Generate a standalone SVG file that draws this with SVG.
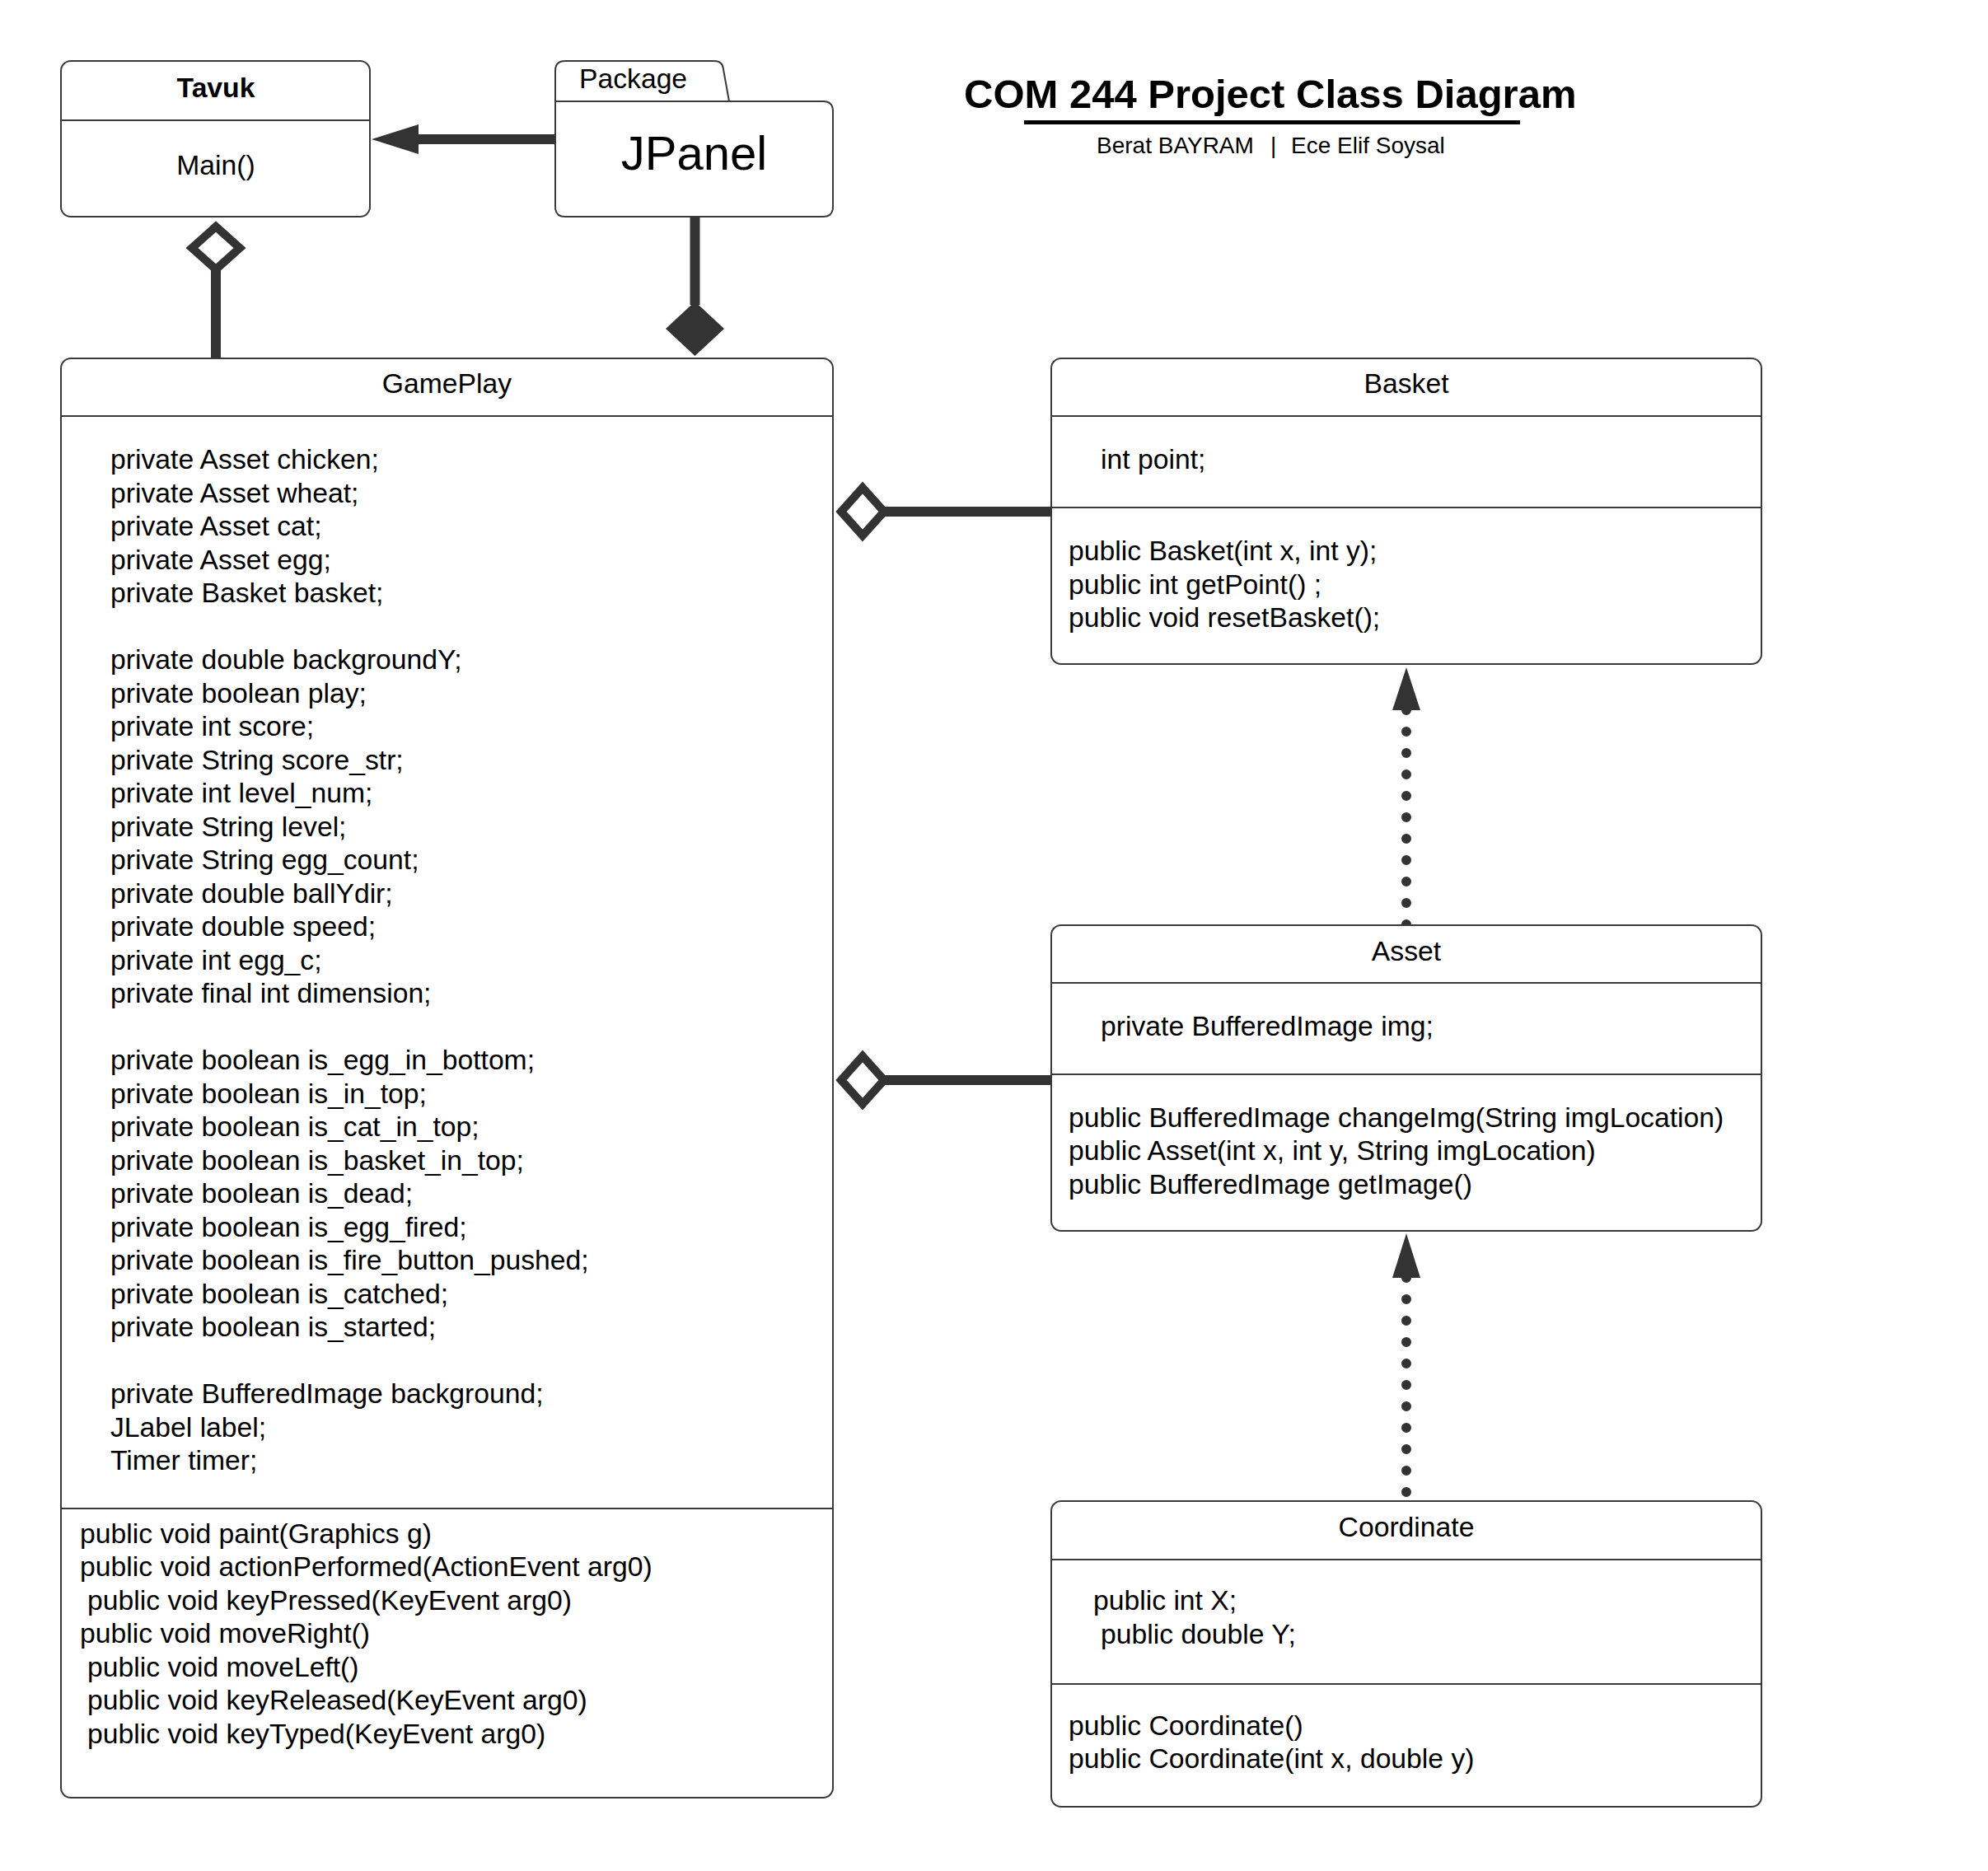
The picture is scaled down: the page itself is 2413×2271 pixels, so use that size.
<svg xmlns="http://www.w3.org/2000/svg" width="2413" height="2271" viewBox="0 0 2413 2271">
<style>
.box{fill:#fff;stroke:#3a3a3a;stroke-width:2}
.dv{stroke:#3a3a3a;stroke-width:2;fill:none}
.t{font-family:"Liberation Sans",Arial,sans-serif;font-size:33.7px;fill:#000}
.c{text-anchor:middle}
.ln{stroke:#333;stroke-width:12;fill:none}
.dot{stroke:#333;stroke-width:12;stroke-linecap:round;stroke-dasharray:0 26;fill:none}
.hd{fill:#fff;stroke:#333;stroke-width:10;stroke-linejoin:miter}
.fh{fill:#333;stroke:none}
</style>
<rect width="2413" height="2271" fill="#fff"/>
<g id="title">
<text class="t" x="1170" y="131" style="font-size:49px;font-weight:bold">COM 244 Project Class Diagram</text>
<rect x="1243" y="146" width="602" height="5" fill="#000"/>
<text class="t" y="186" style="font-size:28px"><tspan x="1331">Berat BAYRAM</tspan><tspan x="1542">|</tspan><tspan x="1567">Ece Elif Soysal</tspan></text>
</g>
<g id="connectors">
<line class="ln" x1="674" y1="169" x2="500" y2="169"/>
<polygon class="fh" points="451,169 508,151 508,187"/>
<line class="ln" x1="262" y1="327" x2="262" y2="435"/>
<polygon class="hd" points="262,275 291,301 262,327 233,301"/>
<line class="ln" x1="843.5" y1="263" x2="843.5" y2="370"/>
<polygon class="fh" points="843.5,366 879,399 843.5,432 808,399"/>
<line class="ln" x1="1073" y1="621" x2="1276" y2="621"/>
<polygon class="hd" points="1021,621 1047,592 1073,621 1047,650"/>
<line class="ln" x1="1073" y1="1311" x2="1276" y2="1311"/>
<polygon class="hd" points="1021,1311 1047,1282 1073,1311 1047,1340"/>
<path class="dot" d="M1707,862 V1123"/>
<polygon class="fh" points="1707,810 1724,862 1690,862"/>
<path class="dot" d="M1707,1551 V1822"/>
<polygon class="fh" points="1707,1497 1724,1551 1690,1551"/>
</g>
<g id="tavuk">
<rect class="box" x="74" y="74" width="375" height="189" rx="12"/>
<line class="dv" x1="74" y1="146" x2="449" y2="146"/>
<text class="t c" x="262" y="118" style="font-weight:bold">Tavuk</text>
<text class="t c" x="262" y="212">Main()</text>
</g>
<g id="jpanel">
<path class="box" d="M674,123 V86 Q674,74 686,74 H867 Q877,74 878,84 L885,123"/>
<path class="box" d="M674,123 H999 Q1011,123 1011,135 V251 Q1011,263 999,263 H686 Q674,263 674,251 Z"/>
<text class="t" x="703" y="107">Package</text>
<text class="t c" x="842.5" y="206" style="font-size:58px">JPanel</text>
</g>
<g id="gameplay">
<rect class="box" x="74" y="435" width="937" height="1747" rx="12"/>
<line class="dv" x1="74" y1="505" x2="1011" y2="505"/>
<line class="dv" x1="74" y1="1831" x2="1011" y2="1831"/>
<text class="t c" x="542.5" y="477">GamePlay</text>
<text class="t">
<tspan x="134" y="569">private Asset chicken;</tspan>
<tspan x="134" y="609.5">private Asset wheat;</tspan>
<tspan x="134" y="650">private Asset cat;</tspan>
<tspan x="134" y="690.5">private Asset egg;</tspan>
<tspan x="134" y="731">private Basket basket;</tspan>
<tspan x="134" y="812">private double backgroundY;</tspan>
<tspan x="134" y="852.5">private boolean play;</tspan>
<tspan x="134" y="893">private int score;</tspan>
<tspan x="134" y="933.5">private String score_str;</tspan>
<tspan x="134" y="974">private int level_num;</tspan>
<tspan x="134" y="1014.5">private String level;</tspan>
<tspan x="134" y="1055">private String egg_count;</tspan>
<tspan x="134" y="1095.5">private double ballYdir;</tspan>
<tspan x="134" y="1136">private double speed;</tspan>
<tspan x="134" y="1176.5">private int egg_c;</tspan>
<tspan x="134" y="1217">private final int dimension;</tspan>
<tspan x="134" y="1298">private boolean is_egg_in_bottom;</tspan>
<tspan x="134" y="1338.5">private boolean is_in_top;</tspan>
<tspan x="134" y="1379">private boolean is_cat_in_top;</tspan>
<tspan x="134" y="1419.5">private boolean is_basket_in_top;</tspan>
<tspan x="134" y="1460">private boolean is_dead;</tspan>
<tspan x="134" y="1500.5">private boolean is_egg_fired;</tspan>
<tspan x="134" y="1541">private boolean is_fire_button_pushed;</tspan>
<tspan x="134" y="1581.5">private boolean is_catched;</tspan>
<tspan x="134" y="1622">private boolean is_started;</tspan>
<tspan x="134" y="1703">private BufferedImage background;</tspan>
<tspan x="134" y="1743.5">JLabel label;</tspan>
<tspan x="134" y="1784">Timer timer;</tspan>
</text>
<text class="t">
<tspan x="97" y="1872.5">public void paint(Graphics g)</tspan>
<tspan x="97" y="1913">public void actionPerformed(ActionEvent arg0)</tspan>
<tspan x="106" y="1953.5">public void keyPressed(KeyEvent arg0)</tspan>
<tspan x="97" y="1994">public void moveRight()</tspan>
<tspan x="106" y="2034.5">public void moveLeft()</tspan>
<tspan x="106" y="2075">public void keyReleased(KeyEvent arg0)</tspan>
<tspan x="106" y="2115.5">public void keyTyped(KeyEvent arg0)</tspan>
</text>
</g>
<g id="basket">
<rect class="box" x="1276" y="435" width="862" height="371" rx="12"/>
<line class="dv" x1="1276" y1="505" x2="2138" y2="505"/>
<line class="dv" x1="1276" y1="616" x2="2138" y2="616"/>
<text class="t c" x="1707" y="477">Basket</text>
<text class="t" x="1336" y="569">int point;</text>
<text class="t">
<tspan x="1297" y="680">public Basket(int x, int y);</tspan>
<tspan x="1297" y="720.5">public int getPoint() ;</tspan>
<tspan x="1297" y="761">public void resetBasket();</tspan>
</text>
</g>
<g id="asset">
<rect class="box" x="1276" y="1123" width="862" height="371" rx="12"/>
<line class="dv" x1="1276" y1="1193" x2="2138" y2="1193"/>
<line class="dv" x1="1276" y1="1304" x2="2138" y2="1304"/>
<text class="t c" x="1707" y="1166">Asset</text>
<text class="t" x="1336" y="1257">private BufferedImage img;</text>
<text class="t">
<tspan x="1297" y="1368">public BufferedImage changeImg(String imgLocation)</tspan>
<tspan x="1297" y="1408">public Asset(int x, int y, String imgLocation)</tspan>
<tspan x="1297" y="1448.5">public BufferedImage getImage()</tspan>
</text>
</g>
<g id="coordinate">
<rect class="box" x="1276" y="1822" width="862" height="371" rx="12"/>
<line class="dv" x1="1276" y1="1893" x2="2138" y2="1893"/>
<line class="dv" x1="1276" y1="2044" x2="2138" y2="2044"/>
<text class="t c" x="1707" y="1865">Coordinate</text>
<text class="t">
<tspan x="1327" y="1954">public int X;</tspan>
<tspan x="1336" y="1995">public double Y;</tspan>
</text>
<text class="t">
<tspan x="1297" y="2106">public Coordinate()</tspan>
<tspan x="1297" y="2146">public Coordinate(int x, double y)</tspan>
</text>
</g>
</svg>
